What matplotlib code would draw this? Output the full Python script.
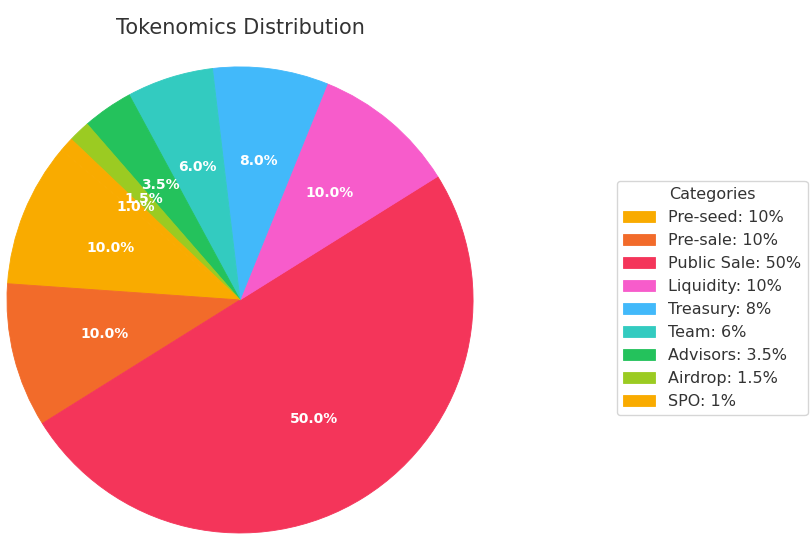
"""
Tokenomics 분포 파이 차트 재현
실행: python plot.py  ->  out.png
"""
import matplotlib.pyplot as plt

# ── 데이터 ──────────────────────────────
categories = ["Pre-seed", "Pre-sale", "Public Sale", "Liquidity", "Treasury",
              "Team", "Advisors", "Airdrop", "SPO"]
shares = [10, 10, 50, 10, 8, 6, 3.5, 1.5, 1]
share_labels = ["10%", "10%", "50%", "10%", "8%", "6%", "3.5%", "1.5%", "1%"]
colors = ["#F9AB00", "#F26B2A", "#F4355A", "#F75CCB", "#42B9FA",
          "#33CBC0", "#24C25C", "#9BCB22", "#F9AB00"]


def plot_tokenomics(save_path="out.png"):
    fig = plt.figure(figsize=(8.12, 5.42), dpi=100)
    ax = fig.add_axes([0.0086, 0.0166, 0.574, 0.86])
    wedges, _, autotexts = ax.pie(shares, colors=colors, startangle=140,
                                  autopct="%1.1f%%", pctdistance=0.6,
                                  textprops=dict(color="white", fontsize=10,
                                                 fontweight="bold"))
    for w in wedges:   # 조각 사이 이음새 안 보이게
        w.set_edgecolor(w.get_facecolor()); w.set_linewidth(0.6)
    ax.set_xlim(-1, 1); ax.set_ylim(-1, 1)   # 파이가 축을 꽉 채우도록
    ax.set_aspect("equal")

    fig.text(240 / 812, 1 - 28 / 542, "Tokenomics Distribution",
             ha="center", va="center", fontsize=15, color="#333333")

    legend_labels = [f"{c}: {s}" for c, s in zip(categories, share_labels)]
    leg = fig.legend(wedges, legend_labels, title="Categories",
                     loc="center left", bbox_to_anchor=(609 / 812, 1 - 298 / 542),
                     fontsize=11.5, title_fontsize=11.5, frameon=True)
    for t in leg.get_texts():
        t.set_color("#333333")
    leg.get_title().set_color("#333333")

    fig.savefig(save_path, dpi=100)


if __name__ == "__main__":
    plot_tokenomics()
